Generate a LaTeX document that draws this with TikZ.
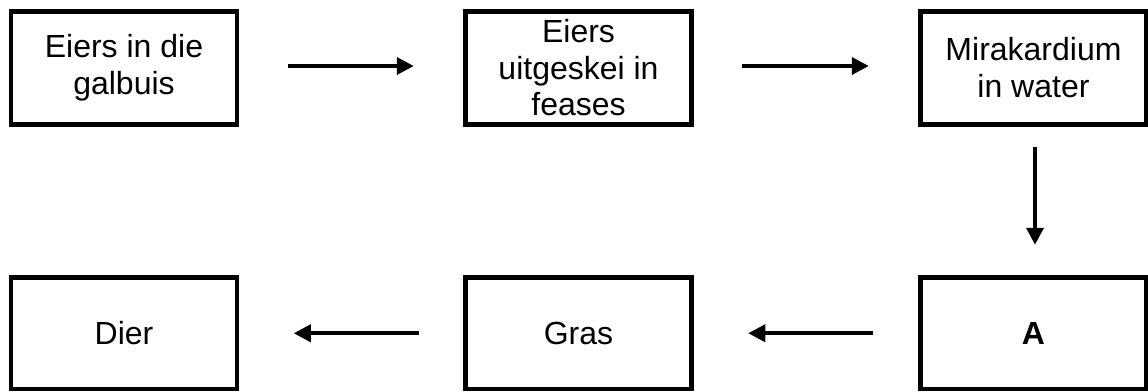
\documentclass[tikz,border=0pt]{standalone}
\usepackage{fontspec}
\setmainfont{Liberation Sans}
\usetikzlibrary{arrows.meta}
\tikzset{
  box/.style={draw, line width=4.5pt, minimum width=226pt, minimum height=113pt, inner sep=0pt, align=center, font=\fontsize{32}{36.5}\selectfont},
  lowbox/.style={box, minimum height=111.5pt},
  flow/.style={line width=3.6pt, -{Triangle[length=17pt,width=17pt]}}
}
\begin{document}
\begin{tikzpicture}[x=1pt,y=-1pt]
\useasboundingbox (0,0) rectangle (1148,391);
\node[box] (b1) at (124,67.75) {Eiers in die\\galbuis};
\node[box] (b2) at (578.5,67.75) {Eiers\\uitgeskei in\\feases};
\node[box] (b3) at (1033.5,67.75) {Mirakardium\\in water};
\node[lowbox] (c1) at (124,333.25) {Dier};
\node[lowbox] (c2) at (578.5,333.25) {Gras};
\node[lowbox] (c3) at (1033.5,333.25) {\textbf{A}};
\draw[flow, shorten <=48.5pt, shorten >=49.5pt] ([yshift=1.75pt]b1.east) -- ([yshift=1.75pt]b2.west);
\draw[flow, shorten <=48.5pt, shorten >=49.5pt] ([yshift=1.75pt]b2.east) -- ([yshift=1.75pt]b3.west);
\draw[flow, shorten <=20.7pt, shorten >=30.5pt] ([xshift=1.5pt]b3.south) -- ([xshift=1.5pt]c3.north);
\draw[flow, shorten <=45pt, shorten >=54.5pt] (c3.west) -- (c2.east);
\draw[flow, shorten <=44.5pt, shorten >=54.5pt] (c2.west) -- (c1.east);
\end{tikzpicture}
\end{document}
